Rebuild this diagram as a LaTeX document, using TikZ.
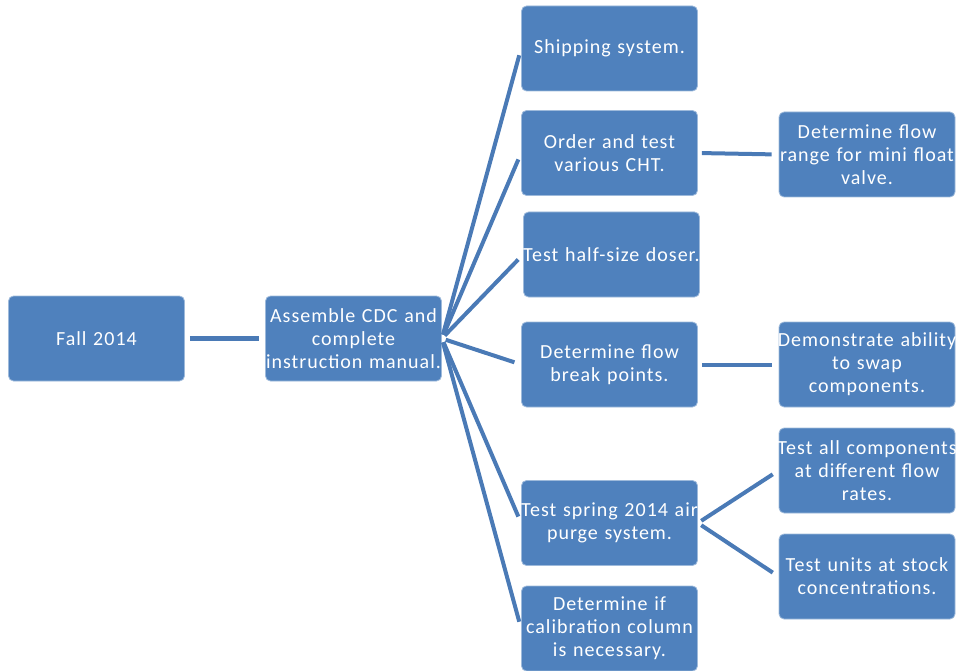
\documentclass[tikz,border=0pt]{standalone}
\usepackage{fontspec}
\setmainfont{Carlito}
\usepackage{tikz}
\usetikzlibrary{positioning}
\definecolor{boxblue}{HTML}{4F81BD}
\definecolor{linkblue}{HTML}{4A7AB6}

\begin{document}
\begin{tikzpicture}[x=1pt,y=-1pt,
  card/.style={rectangle,rounded corners=5pt,draw=white!45!boxblue,line width=0.8pt,fill=boxblue,minimum width=176pt,minimum height=85pt,text width=190pt,align=center,text=white,inner xsep=-7pt,inner ysep=0pt,font=\fontsize{20}{23}\selectfont\addfontfeature{LetterSpace=5}},
  link/.style={linkblue,line width=4pt,shorten <=4pt,shorten >=7pt}]
\useasboundingbox (0,0) rectangle (956,671);
% left side
\node[card] (f0) at (96.5,338.5) {Fall 2014};
\node[card] (a0) at (353.5,338.5) {Assemble CDC and\\complete\\instruction manual.};
\draw[link,line width=4.5pt,shorten <=5pt,shorten >=6pt] (f0.east) -- (a0.west);
% middle column
\node[card] (m1) at (609.5,48.5) {Shipping system.};
\node[card] (m2) at (609.5,153) {Order and test\\various CHT.};
\node[card] (m3) at (611.5,254.5) {Test half-size doser.};
\node[card] (m4) at (609.5,364.5) {Determine flow\\break points.};
\node[card] (m5) at (609.5,523) {Test spring 2014 air\\purge system.};
\node[card] (m6) at (609.5,628.5) {Determine if\\calibration column\\is necessary.};
\foreach \m in {m1,m2,m3,m4,m5,m6}
  \draw[link] (a0.east) -- (\m.west);
% right column
\node[card] (r1) at (867,154.5) {Determine flow\\range for mini float\\valve.};
\node[card] (r2) at (867,364.5) {Demonstrate ability\\to swap\\components.};
\node[card] (r3) at (867,470.5) {Test all components\\at different flow\\rates.};
\node[card] (r4) at (867,576.5) {Test units at stock\\concentrations.};
\draw[link] (m2.east) -- (r1.west);
\draw[link] (m4.east) -- (r2.west);
\draw[link] (m5.east) -- (r3.west);
\draw[link] (m5.east) -- (r4.west);
\end{tikzpicture}
\end{document}
